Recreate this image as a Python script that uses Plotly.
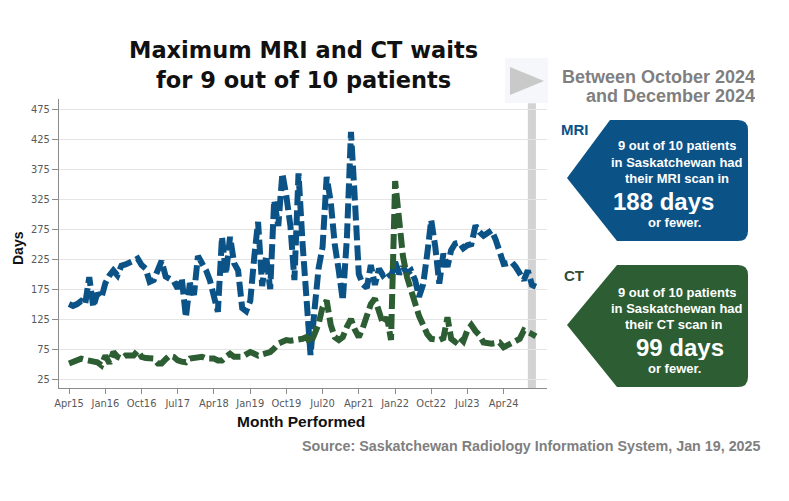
import plotly.graph_objects as go
import pandas as pd

# ---------------- data ----------------
months = pd.date_range("2015-04-01", periods=117, freq="MS")

mri_days = [
    150, 147, 150, 155, 150, 195, 145, 168, 160, 185,
    198, 206, 198, 214, 216, 218, 222, 226, 215, 209,
    187, 190, 204, 222, 196, 192, 188, 176, 193, 128,
    185, 165, 230, 218, 206, 190, 165, 137, 262, 200,
    262, 218, 206, 143, 138, 155, 230, 287, 180, 230,
    175, 323, 280, 368, 330, 280, 190, 368, 250, 155,
    65, 140, 210, 245, 362, 320, 250, 205, 156, 260,
    437, 330, 200, 183, 177, 215, 182, 209, 198, 204,
    195, 220, 200, 212, 201, 206, 190, 162, 183, 234,
    290, 245, 184, 234, 212, 240, 251, 253, 243, 248,
    250, 281, 270, 264, 268, 273, 257, 234, 217, 218,
    220, 212, 201, 190, 206, 182, 179,
]

ct_days = [
    51, 53, 56, 59, 57, 56, 56, 53, 48, 64,
    51, 70, 62, 59, 64, 64, 64, 72, 62, 60,
    59, 59, 51, 51, 58, 64, 62, 56, 54, 53,
    59, 60, 62, 62, 59, 59, 59, 56, 56, 62,
    67, 62, 62, 62, 66, 70, 67, 64, 66, 68,
    70, 76, 84, 87, 90, 89, 90, 90, 92, 95,
    84, 100, 117, 145, 156, 115, 95, 90, 95, 112,
    125, 108, 95, 110, 134, 150, 159, 134, 117, 128,
    90, 355, 285, 230, 195, 173, 150, 130, 115, 100,
    92, 91, 90, 93, 128, 92, 87, 95, 88, 106,
    115, 105, 98, 86, 84, 84, 85, 86, 78, 82,
    85, 88, 92, 106, 104, 100, 96,
]

tick_dates = ["2015-04-01", "2016-01-01", "2016-10-01", "2017-07-01", "2018-04-01",
              "2019-01-01", "2019-10-01", "2020-07-01", "2021-04-01", "2022-01-01",
              "2022-10-01", "2023-07-01", "2024-04-01"]
tick_labels = ["Apr15", "Jan16", "Oct16", "Jul17", "Apr18", "Jan19", "Oct19",
               "Jul20", "Apr21", "Jan22", "Oct22", "Jul23", "Apr24"]
y_ticks = [25, 75, 125, 175, 225, 275, 325, 375, 425, 475]

highlight_start = "2024-10-01"
highlight_end = "2024-12-01"
mri_recent = 188
ct_recent = 99

# ---------------- styling ----------------
MRI_COLOR = "#0b5287"
CT_COLOR = "#2c5d33"
NARROW = "Liberation Sans Narrow, DejaVu Sans Condensed, Arial Narrow, sans-serif"
BOLD = "Liberation Sans, Arial, sans-serif"

L, R, T, B = 59, 242, 99, 113
W, H = 789, 501
PW, PH = W - L - R, H - T - B


def px(x):
    return (x - L) / PW


def py(y):
    return (H - B - y) / PH


fig = go.Figure()
fig.add_trace(go.Scatter(x=months, y=mri_days, mode="lines", name="MRI",
                         line=dict(color=MRI_COLOR, width=6, dash="15px,5px")))
fig.add_trace(go.Scatter(x=months, y=ct_days, mode="lines", name="CT",
                         line=dict(color=CT_COLOR, width=6, dash="15px,5px")))

shapes = []
# highlight band
shapes.append(dict(type="rect", xref="x", yref="y", x0=highlight_start, x1=highlight_end,
                   y0=10, y1=485, fillcolor="#d3d3d3", line=dict(width=0), layer="below"))
# triangle marker background & triangle
shapes.append(dict(type="rect", xref="paper", yref="paper", x0=px(505), x1=px(548),
                   y0=py(103), y1=py(58), fillcolor="#f5f7fa", line=dict(width=0)))
shapes.append(dict(type="path", xref="paper", yref="paper",
                   path=f"M {px(510)} {py(67)} L {px(544)} {py(81)} L {px(510)} {py(95)} Z",
                   fillcolor="#c9c9c9", line=dict(width=0)))


def box_path(top, bottom, tip_y, left_top, left_bot, tip_x, right, r=10):
    return (f"M {px(left_top)} {py(top)} L {px(right - r)} {py(top)} "
            f"Q {px(right)} {py(top)} {px(right)} {py(top + r)} "
            f"L {px(right)} {py(bottom - r)} "
            f"Q {px(right)} {py(bottom)} {px(right - r)} {py(bottom)} "
            f"L {px(left_bot)} {py(bottom)} L {px(tip_x)} {py(tip_y)} Z")


shapes.append(dict(type="path", xref="paper", yref="paper",
                   path=box_path(120, 241, 178, 610, 617, 567, 748),
                   fillcolor=MRI_COLOR, line=dict(width=0)))
shapes.append(dict(type="path", xref="paper", yref="paper",
                   path=box_path(265, 387, 325, 617, 617, 567, 748),
                   fillcolor=CT_COLOR, line=dict(width=0)))

ann = []


def text(x, y, s, size, color, xanchor="center", family=BOLD, bold=True, angle=0,
         height=None):
    a = dict(x=px(x), y=py(y), xref="paper", yref="paper", text=s, showarrow=False,
             xanchor=xanchor, yanchor="middle", textangle=angle,
             font=dict(size=size, color=color, family=family,
                       weight="bold" if bold else "normal"))
    if height is not None:
        a["height"] = height
    ann.append(a)


# title
TITLE_FONT = "DejaVu Sans, Verdana, sans-serif"
text(303, 50, "Maximum MRI and CT waits", 22.5, "#111111", family=TITLE_FONT)
text(303, 80, "for 9 out of 10 patients", 22.5, "#111111", family=TITLE_FONT)
# right header
text(757, 77, "Between October 2024", 18, "#7f7f7f", xanchor="right", height=17)
text(757, 95, "and December 2024", 18, "#7f7f7f", xanchor="right", height=17)
# labels
text(559, 129, "MRI", 15, MRI_COLOR, xanchor="left")
text(562, 275, "CT", 15, "#2e4e36", xanchor="left")
# MRI box text
text(677, 145, "9 out of 10 patients", 13, "white", height=15)
text(677, 162, "in Saskatchewan had", 13, "white", height=15)
text(677, 178, "their MRI scan in", 13, "white", height=15)
text(663, 201, f"{mri_recent} days", 24, "white", height=26)
text(674, 222, "or fewer.", 13, "white", height=15)
# CT box text
text(677, 292, "9 out of 10 patients", 13, "white", height=15)
text(677, 308, "in Saskatchewan had", 13, "white", height=15)
text(674, 324, "their CT scan in", 13, "white", height=15)
text(680, 347, f"{ct_recent} days", 24, "white", height=26)
text(674, 368, "or fewer.", 13, "white", height=15)
# axis titles
text(18, 248, "Days", 14, "#111111", angle=-90)
text(301, 421, "Month Performed", 15.5, "#111111")
text(763, 446, "Source: Saskatchewan Radiology Information System, Jan 19, 2025", 14.3,
     "#7f7f7f", xanchor="right")

fig.update_layout(
    width=W, height=H,
    margin=dict(l=L, r=R, t=T, b=B),
    paper_bgcolor="white", plot_bgcolor="white",
    showlegend=False,
    shapes=shapes, annotations=ann,
    xaxis=dict(range=["2015-01-15", "2025-02-23"], tickvals=tick_dates, ticktext=tick_labels,
               ticks="outside", ticklen=5, tickcolor="#8c8c8c", showline=True,
               linecolor="#8c8c8c", showgrid=False, zeroline=False,
               tickfont=dict(size=11, color="#595959", family=NARROW)),
    yaxis=dict(range=[10, 492], tickvals=y_ticks, ticks="outside", ticklen=6,
               tickcolor="#8c8c8c", showline=True, linecolor="#8c8c8c",
               gridcolor="#e4e4e4", zeroline=False,
               tickfont=dict(size=11, color="#595959", family=NARROW)),
)

fig.write_html("out.html")
